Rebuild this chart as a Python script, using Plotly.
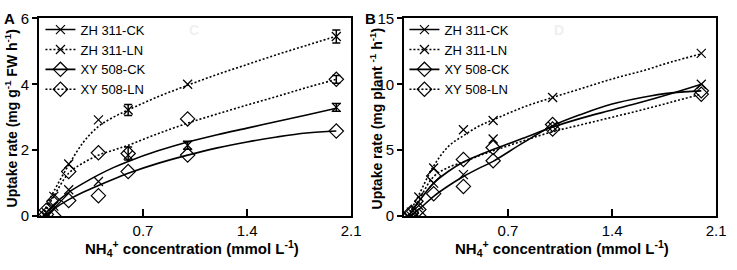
import plotly.graph_objects as go

# ---------------- data ----------------
conc = [0.05, 0.1, 0.2, 0.4, 0.6, 1.0, 2.0]

# Panel A: uptake rate (mg g-1 FW h-1)
a_zh_ck = [0.0, 0.3, 0.8, 1.05, 1.85, 2.15, 3.3]
a_zh_ln = [0.1, 0.6, 1.58, 2.92, 3.22, 4.0, 5.45]
a_xy_ck = [0.05, 0.0, 0.47, 0.62, 1.35, 1.85, 2.58]
a_xy_ln = [0.18, 0.45, 1.35, 1.92, 1.9, 2.95, 4.15]

# error bars (only where visible)
a_err_x = [0.6, 2.0, 1.0, 2.0, 0.6, 2.0]
a_err_y = [3.22, 5.45, 2.15, 3.3, 1.9, 4.15]
a_err_e = [0.17, 0.2, 0.12, 0.12, 0.2, 0.12]

# Panel B: uptake rate (mg plant-1 h-1)
b_zh_ck = [0.0, 0.8, 2.5, 3.15, 5.85, 6.8, 10.0]
b_zh_ln = [0.3, 1.45, 3.65, 6.55, 7.25, 9.0, 12.35]
b_xy_ck = [0.2, 0.0, 1.7, 2.25, 4.2, 6.95, 9.5]
b_xy_ln = [0.3, 0.5, 3.05, 4.3, 5.2, 6.6, 9.25]

# fitted curves
curve_x = [0.03, 0.05, 0.1, 0.2, 0.3, 0.4, 0.5, 0.6, 0.8, 1.0, 1.2, 1.4, 1.6, 1.8, 2.0]
ca_zh_ck = [0.0, 0.1, 0.35, 0.72, 1.0, 1.25, 1.47, 1.66, 1.98, 2.25, 2.47, 2.67, 2.87, 3.07, 3.27]
ca_zh_ln = [0.0, 0.3, 0.75, 1.55, 2.25, 2.72, 3.0, 3.22, 3.62, 3.97, 4.3, 4.6, 4.9, 5.18, 5.46]
ca_xy_ck = [0.0, 0.05, 0.22, 0.5, 0.73, 0.93, 1.12, 1.3, 1.6, 1.85, 2.07, 2.25, 2.4, 2.52, 2.58]
ca_xy_ln = [0.0, 0.2, 0.6, 1.3, 1.62, 1.85, 2.0, 2.15, 2.5, 2.82, 3.1, 3.37, 3.63, 3.9, 4.15]

cb_zh_ck = [0.0, 0.3, 1.1, 2.5, 3.4, 4.1, 4.6, 5.05, 5.9, 6.75, 7.45, 8.05, 8.65, 9.3, 10.0]
cb_zh_ln = [0.0, 0.5, 1.6, 3.8, 5.3, 6.1, 6.8, 7.3, 8.25, 9.0, 9.7, 10.4, 11.0, 11.7, 12.3]
cb_xy_ck = [0.0, 0.1, 0.5, 1.5, 2.3, 3.0, 3.6, 4.15, 5.55, 6.85, 7.75, 8.5, 9.0, 9.35, 9.5]
cb_xy_ln = [0.0, 0.3, 1.2, 3.0, 3.7, 4.1, 4.55, 4.95, 5.7, 6.4, 6.95, 7.5, 8.05, 8.65, 9.25]

series_names = ["ZH 311-CK", "ZH 311-LN", "XY 508-CK", "XY 508-LN"]
a_tickvals_y = [0, 2, 4, 6]
b_tickvals_y = [0, 5, 10, 15]
tickvals_x = [0.7, 1.4, 2.1]

# ---------------- styles ----------------
FONT = "Liberation Sans, Arial, sans-serif"
DOT = "2px,2px"
styles = [
    dict(dash="solid", symbol="x-thin-open", size=9),
    dict(dash=DOT, symbol="x-thin-open", size=9),
    dict(dash="solid", symbol="diamond-open", size=11),
    dict(dash=DOT, symbol="diamond-open", size=11),
]
LW = 1.6

fig = go.Figure()

def add_panel(xa, ya, legend, pts, curves, err=None):
    for name, st, yv, cv in zip(series_names, styles, pts, curves):
        fig.add_trace(go.Scatter(x=curve_x, y=cv, mode="lines", xaxis=xa, yaxis=ya,
                                 line=dict(color="black", width=LW, dash=st["dash"], shape="spline"),
                                 showlegend=False, hoverinfo="skip"))
        fig.add_trace(go.Scatter(x=conc, y=yv, mode="markers", xaxis=xa, yaxis=ya,
                                 marker=dict(symbol=st["symbol"], size=st["size"], color="black",
                                             line=dict(color="black", width=1.2)),
                                 showlegend=False))
    if err is not None:
        ex, ey, ee = err
        fig.add_trace(go.Scatter(x=ex, y=ey, mode="markers", xaxis=xa, yaxis=ya,
                                 marker=dict(size=1, color="rgba(0,0,0,0)"),
                                 error_y=dict(type="data", array=ee, visible=True, color="black",
                                              thickness=1.5, width=4),
                                 showlegend=False, hoverinfo="skip"))
    for name, st in zip(series_names, styles):
        fig.add_trace(go.Scatter(x=[None], y=[None], mode="lines+markers", xaxis=xa, yaxis=ya,
                                 name=name, legend=legend,
                                 line=dict(color="black", width=LW, dash=st["dash"]),
                                 marker=dict(symbol=st["symbol"], size=st["size"], color="black",
                                             line=dict(color="black", width=1.2))))

add_panel("x", "y", "legend", [a_zh_ck, a_zh_ln, a_xy_ck, a_xy_ln],
          [ca_zh_ck, ca_zh_ln, ca_xy_ck, ca_xy_ln], (a_err_x, a_err_y, a_err_e))
add_panel("x2", "y2", "legend2", [b_zh_ck, b_zh_ln, b_xy_ck, b_xy_ln],
          [cb_zh_ck, cb_zh_ln, cb_xy_ck, cb_xy_ln])

W, H = 737, 270
def px(x): return x / W
def py(y): return 1 - y / H

xcommon = dict(range=[0, 2.1], tickvals=tickvals_x, ticktext=["0.7", "1.4", "2.1"],
               ticks="inside", ticklen=7, tickwidth=1.5, tickcolor="black",
               showline=True, linecolor="black", linewidth=1.5, mirror=True,
               showgrid=False, zeroline=False,
               tickfont=dict(family=FONT, size=15, color="black"))
ycommon = dict(ticks="outside", ticklen=5, tickwidth=1.5, tickcolor="black",
               showline=True, linecolor="black", linewidth=1.5, mirror=True,
               showgrid=False, zeroline=False,
               tickfont=dict(family=FONT, size=15, color="black"))

legcommon = dict(font=dict(family=FONT, size=13, color="black"), bgcolor="rgba(0,0,0,0)",
                 xanchor="left", yanchor="top", tracegroupgap=0, itemwidth=30)

fig.update_layout(
    width=W, height=H, margin=dict(l=0, r=0, t=0, b=0),
    paper_bgcolor="white", plot_bgcolor="white",
    xaxis=dict(domain=[px(39.5), px(356)], anchor="y", **xcommon),
    yaxis=dict(domain=[py(221), py(10)], anchor="x", range=[0, 6], tickvals=a_tickvals_y, **ycommon),
    xaxis2=dict(domain=[px(409.5), px(726)], anchor="y2", **xcommon),
    yaxis2=dict(domain=[py(221), py(10)], anchor="x2", range=[0, 15], tickvals=b_tickvals_y, **ycommon),
    legend=dict(x=px(41), y=py(6), **legcommon),
    legend2=dict(x=px(410), y=py(6), **legcommon),
    showlegend=True,
)

ann = []
ytitle_a = "Uptake rate (mg g<sup>-1</sup> FW h<sup>-1</sup>)"
ytitle_b = "Uptake rate (mg plant <sup>-1</sup> h<sup>-1</sup>)"
xtitle = "NH<sub>4</sub><sup>+</sup> concentration (mmol L<sup>-1</sup>)"
for xc, t in [(11, ytitle_a), (381, ytitle_b)]:
    ann.append(dict(x=px(xc), y=py(117), xref="paper", yref="paper", text="<b>" + t + "</b>",
                    textangle=-90, showarrow=False, xanchor="center", yanchor="middle",
                    font=dict(family=FONT, size=14, color="black")))
for xc in [195, 570]:
    ann.append(dict(x=px(xc), y=py(256), xref="paper", yref="paper", text="<b>" + xtitle + "</b>",
                    showarrow=False, xanchor="center", yanchor="middle",
                    font=dict(family=FONT, size=15, color="black")))
for xc, t in [(10, "A"), (376, "B")]:
    ann.append(dict(x=px(xc), y=py(10), xref="paper", yref="paper", text="<b>" + t + "</b>",
                    showarrow=False, xanchor="center", yanchor="middle",
                    font=dict(family=FONT, size=15, color="black")))
for xc, t in [(197, "C"), (567, "D")]:
    ann.append(dict(x=px(xc), y=py(22), xref="paper", yref="paper", text="<b>" + t + "</b>",
                    showarrow=False, xanchor="center", yanchor="middle",
                    font=dict(family=FONT, size=14, color="#f0f0f0")))
fig.update_layout(annotations=ann)

fig.write_html("out.html", config={"displayModeBar": False},
               post_script="document.body.style.margin='0';")
